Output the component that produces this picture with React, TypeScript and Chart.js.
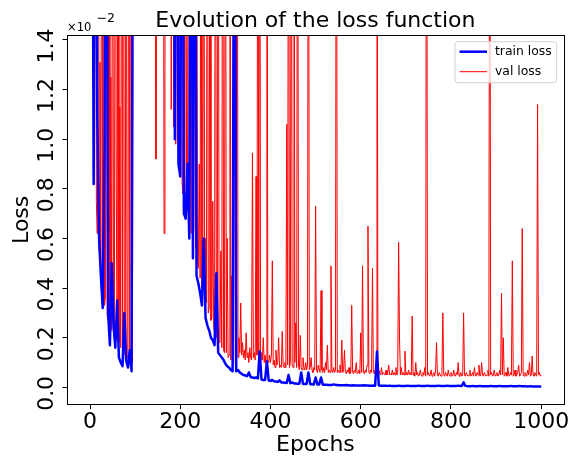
import React, { useEffect, useRef } from "react";
import { Chart, registerables } from "chart.js";

Chart.register(...registerables);

// Sampled epochs: train loss every 4th epoch, val loss every 2nd epoch
const trainEpochs: number[] = Array.from({ length: 251 }, (_, i) => i * 4);
const valEpochs: number[] = Array.from({ length: 501 }, (_, i) => i * 2);

// Loss values in units of 1e-2 (the axis offset shown on the chart)
const trainLoss: number[] = [
  // 0-36
  5, 3, 0.82, 3, 1.1, 0.6, 0.45, 0.32, 0.95, 3,
  // 40-76
  0.3, 0.17, 0.5, 0.25, 0.16, 0.35, 0.12, 0.1, 0.085, 0.3,
  // 80-116
  0.11, 0.08, 0.15, 0.065, 3, 3, 3, 3, 3, 3,
  // 120-156
  3, 3, 3, 3, 3, 3, 3, 3, 3, 3,
  // 160-196
  3, 3, 3, 3, 3, 3, 3, 1.0, 3, 0.9,
  // 200-236
  0.85, 3, 0.7, 0.68, 0.9, 0.6, 3, 0.52, 3, 0.45,
  // 240-276
  0.42, 0.38, 0.33, 0.6, 0.28, 0.25, 0.23, 0.2, 0.19, 0.17,
  // 280-316
  0.46, 0.14, 0.13, 0.12, 0.11, 0.095, 0.085, 0.08, 0.07, 0.065,
  // 320-356
  3, 0.065, 0.07, 0.06, 0.055, 0.05, 0.048, 0.045, 0.06, 0.042,
  // 360-396
  0.04, 0.038, 0.04, 0.036, 0.145, 0.032, 0.03, 0.03, 0.105, 0.028,
  // 400-436
  0.026, 0.03, 0.025, 0.024, 0.022, 0.028, 0.02, 0.02, 0.019, 0.018,
  // 440-476
  0.05, 0.017, 0.02, 0.016, 0.016, 0.015, 0.015, 0.06, 0.014, 0.014,
  // 480-516
  0.014, 0.06, 0.013, 0.013, 0.012, 0.04, 0.012, 0.012, 0.04, 0.011,
  // 520-556
  0.011, 0.011, 0.01, 0.01, 0.01, 0.012, 0.01, 0.01, 0.009, 0.009,
  // 560-596
  0.009, 0.009, 0.01, 0.009, 0.008, 0.008, 0.009, 0.008, 0.008, 0.008,
  // 600-636
  0.008, 0.008, 0.009, 0.008, 0.008, 0.007, 0.007, 0.008, 0.007, 0.145,
  // 640-676
  0.008, 0.007, 0.007, 0.007, 0.007, 0.006, 0.007, 0.006, 0.006, 0.006,
  // 680-716
  0.006, 0.007, 0.006, 0.006, 0.006, 0.006, 0.007, 0.006, 0.006, 0.006,
  // 720-756
  0.006, 0.006, 0.007, 0.006, 0.006, 0.006, 0.006, 0.007, 0.006, 0.006,
  // 760-796
  0.006, 0.006, 0.006, 0.007, 0.006, 0.006, 0.006, 0.006, 0.007, 0.006,
  // 800-836
  0.006, 0.006, 0.006, 0.006, 0.007, 0.006, 0.006, 0.02, 0.006, 0.005,
  // 840-876
  0.005, 0.005, 0.006, 0.005, 0.005, 0.005, 0.006, 0.005, 0.005, 0.005,
  // 880-916
  0.005, 0.005, 0.006, 0.005, 0.005, 0.005, 0.005, 0.006, 0.005, 0.005,
  // 920-956
  0.005, 0.005, 0.005, 0.006, 0.005, 0.005, 0.005, 0.005, 0.006, 0.005,
  // 960-996
  0.005, 0.005, 0.004, 0.004, 0.005, 0.004, 0.004, 0.004, 0.004, 0.004,
  // 1000
  0.004,
];

const valLoss: number[] = [
  // 0-38
  5, 4, 3, 3, 1.0, 3, 3, 0.75, 0.62, 3, 0.55, 1.31, 0.48, 3, 0.4, 3, 0.33, 0.36, 3, 0.29,
  // 40-78
  0.27, 3, 0.25, 1.25, 0.23, 3, 0.22, 0.2, 3, 0.85, 0.19, 3, 0.18, 1.13, 0.16, 3, 0.15, 3, 0.14, 0.13,
  // 80-118
  3, 0.12, 0.13, 3, 0.11, 3, 0.12, 0.1, 3, 3, 3, 3, 3, 3, 3, 3, 3, 3, 3, 3,
  // 120-158
  3, 3, 3, 3, 3, 3, 3, 3, 3, 3, 3, 3, 3, 0.92, 3, 3, 3, 3, 3, 3,
  // 160-198
  3, 3, 0.62, 1.29, 3, 3, 3, 3, 3, 3, 1.12, 3, 3, 1.05, 3, 0.98, 3, 3, 0.93, 3,
  // 200-238
  0.86, 3, 0.82, 0.78, 3, 0.74, 3, 0.7, 0.72, 3, 0.66, 1.2, 0.62, 3, 0.6, 0.64, 3, 0.56, 3, 0.5,
  // 240-278
  0.48, 0.9, 0.44, 3, 0.4, 0.42, 3, 0.36, 0.6, 0.34, 3, 0.3, 0.32, 3, 0.27, 0.28, 0.75, 0.24, 0.22, 3,
  // 280-318
  0.2, 0.22, 3, 0.18, 0.19, 0.55, 0.16, 3, 0.15, 0.14, 3, 0.14, 0.6, 0.12, 0.13, 3, 0.11, 0.45, 0.1, 0.5,
  // 320-358
  3, 0.09, 0.1, 3, 0.12, 0.2, 0.14, 0.34, 0.13, 0.18, 0.12, 0.15, 0.11, 0.22, 0.12, 0.14, 0.1, 0.16, 0.12, 0.11,
  // 360-398
  0.945, 0.12, 0.14, 0.11, 0.85, 0.13, 3, 0.12, 3, 0.1, 0.14, 0.11, 0.2, 0.1, 0.13, 0.09, 3, 0.11, 0.1, 0.13,
  // 400-438
  0.1, 0.13, 0.51, 0.09, 0.11, 0.08, 0.15, 0.09, 0.1, 0.2, 0.08, 0.09, 0.08, 0.226, 0.09, 0.08, 0.1, 0.08, 1.06, 0.09,
  // 440-478
  3, 0.08, 0.1, 3, 0.09, 0.08, 3, 0.1, 0.26, 0.08, 3, 0.09, 0.07, 0.21, 0.08, 0.07, 0.12, 0.08, 0.07, 0.1,
  // 480-518
  0.07, 0.09, 3, 0.07, 0.08, 0.12, 0.07, 0.06, 0.08, 0.07, 0.73, 0.07, 0.06, 0.09, 0.07, 0.06, 0.39, 0.07, 0.06, 0.08,
  // 520-558
  0.06, 0.1, 0.07, 0.17, 0.06, 0.07, 0.06, 0.49, 0.07, 0.06, 0.08, 0.06, 0.07, 3, 0.06, 0.07, 0.06, 0.09, 0.06, 0.19,
  // 560-598
  0.06, 0.07, 0.15, 0.06, 0.055, 0.07, 0.06, 0.08, 0.055, 0.06, 0.33, 0.06, 0.055, 0.07, 0.06, 0.1, 0.055, 0.06, 0.07, 0.055,
  // 600-638
  0.22, 0.06, 0.49, 0.06, 0.055, 0.07, 0.06, 0.09, 0.65, 0.06, 0.055, 0.07, 0.06, 0.48, 0.06, 0.055, 0.07, 0.06, 3, 0.06,
  // 640-678
  0.07, 0.055, 0.05, 0.08, 0.05, 0.06, 0.055, 0.05, 0.07, 0.05, 0.06, 0.09, 0.05, 0.055, 0.05, 0.07, 0.05, 0.06, 0.05, 0.08,
  // 680-718
  0.05, 0.06, 0.585, 0.19, 0.05, 0.08, 0.05, 0.06, 0.05, 0.146, 0.05, 0.06, 0.05, 0.07, 0.05, 0.06, 0.05, 0.287, 0.05, 0.06,
  // 720-758
  0.045, 0.1, 0.05, 0.06, 0.045, 0.05, 0.07, 0.05, 0.045, 0.06, 0.05, 0.08, 0.045, 3, 0.05, 0.06, 0.045, 0.05, 0.07, 0.045,
  // 760-798
  0.05, 0.06, 0.045, 0.07, 0.18, 0.05, 0.045, 0.06, 0.05, 0.045, 0.07, 0.3, 0.05, 0.045, 0.06, 0.05, 0.045, 0.07, 0.05, 0.045,
  // 800-838
  0.06, 0.05, 0.045, 0.07, 0.05, 0.045, 0.06, 0.05, 0.1, 0.045, 0.05, 0.06, 0.045, 0.05, 0.3, 0.05, 0.045, 0.06, 0.05, 0.045,
  // 840-878
  0.05, 0.07, 0.045, 0.05, 0.06, 0.045, 0.08, 0.05, 0.045, 0.06, 0.05, 0.09, 0.045, 0.05, 0.1, 0.05, 0.045, 0.06, 0.05, 0.045,
  // 880-918
  0.05, 0.07, 0.045, 3, 0.05, 0.06, 0.045, 0.05, 0.07, 0.045, 0.05, 0.06, 0.045, 0.05, 0.07, 0.05, 0.38, 0.05, 0.2, 0.045,
  // 920-958
  0.05, 0.06, 0.045, 0.08, 0.05, 0.045, 0.06, 0.05, 0.51, 0.045, 0.05, 0.07, 0.045, 0.05, 0.06, 0.09, 0.045, 0.05, 0.06, 0.64,
  // 960-998
  0.05, 0.045, 0.06, 0.05, 0.045, 0.07, 0.05, 0.1, 0.045, 0.05, 0.126, 0.05, 0.045, 0.06, 0.05, 0.045, 1.14, 0.05, 0.06, 0.045,
  // 1000
  0.05,
];

const xTickValues = [0, 200, 400, 600, 800, 1000];
const yTickValues = [0, 0.2, 0.4, 0.6, 0.8, 1.0, 1.2, 1.4];

const seriesLabels = ["train loss", "val loss"];
const titleText = "Evolution of the loss function";
const xLabel = "Epochs";
const yLabel = "Loss";

const FONT = "DejaVu Sans";

const decorPlugin = {
  id: "decor",
  afterDraw(chart: any) {
    const { ctx, chartArea } = chart;
    const { left, right, top, bottom } = chartArea;
    ctx.save();
    // frame
    ctx.strokeStyle = "#000";
    ctx.lineWidth = 1;
    ctx.strokeRect(Math.round(left) - 0.5, Math.round(top) - 0.5, Math.round(right - left) + 1, Math.round(bottom - top) + 1);

    // rotated y tick labels
    const ys = chart.scales.y;
    ctx.fillStyle = "#000";
    ctx.font = `22px "${FONT}"`;
    ctx.textAlign = "center";
    ctx.textBaseline = "middle";
    ys.ticks.forEach((t: any) => {
      const py = ys.getPixelForValue(t.value);
      ctx.save();
      ctx.translate(47, py + 6);
      ctx.rotate(-Math.PI / 2);
      ctx.fillText(Number(t.value).toFixed(1), 0, 0);
      ctx.restore();
    });

    // title
    ctx.textAlign = "center";
    ctx.textBaseline = "alphabetic";
    ctx.fillText(titleText, (left + right) / 2, 26.5);

    // offset text
    ctx.textAlign = "left";
    ctx.font = `11.5px "${FONT}"`;
    ctx.fillText("\u00d710", left - 0.5, 31);
    ctx.font = `12.5px "${FONT}"`;
    ctx.fillText("\u22122", left + 29, 21.5);

    // legend
    const bw = 101.7, bh = 41;
    const bx = right - 6.6 - bw;
    const by = top + 6;
    const r = 3;
    ctx.beginPath();
    ctx.moveTo(bx + r, by);
    ctx.lineTo(bx + bw - r, by);
    ctx.arcTo(bx + bw, by, bx + bw, by + r, r);
    ctx.lineTo(bx + bw, by + bh - r);
    ctx.arcTo(bx + bw, by + bh, bx + bw - r, by + bh, r);
    ctx.lineTo(bx + r, by + bh);
    ctx.arcTo(bx, by + bh, bx, by + bh - r, r);
    ctx.lineTo(bx, by + r);
    ctx.arcTo(bx, by, bx + r, by, r);
    ctx.closePath();
    ctx.fillStyle = "rgba(255,255,255,0.8)";
    ctx.fill();
    ctx.strokeStyle = "#d0d0d0";
    ctx.lineWidth = 1;
    ctx.stroke();

    const ds = chart.data.datasets;
    ds.forEach((d: any, i: number) => {
      const y = by + 10 + i * 20;
      ctx.beginPath();
      ctx.moveTo(bx + 4.5, y);
      ctx.lineTo(bx + 32, y);
      ctx.strokeStyle = d.borderColor;
      ctx.lineWidth = d.borderWidth;
      ctx.stroke();
      ctx.fillStyle = "#000";
      ctx.font = `12.4px "${FONT}"`;
      ctx.textAlign = "left";
      ctx.textBaseline = "middle";
      ctx.fillText(d.label, bx + 40, y);
    });
    ctx.restore();
  },
};

export default function App() {
  const ref = useRef<HTMLCanvasElement>(null);
  useEffect(() => {
    document.body.style.margin = "0";
    const canvas = ref.current!;
    const chart = new Chart(canvas, {
      type: "line",
      data: {
        datasets: [
          {
            label: seriesLabels[0],
            data: trainEpochs.map((e, i) => ({ x: e, y: trainLoss[i] })),
            borderColor: "#0000ff",
            borderWidth: 2.5,
            pointRadius: 0,
            tension: 0,
            borderJoinStyle: "round",
            clip: 0,
          },
          {
            label: seriesLabels[1],
            data: valEpochs.map((e, i) => ({ x: e, y: valLoss[i] })),
            borderColor: "#ff0000",
            borderWidth: 1,
            pointRadius: 0,
            tension: 0,
            borderJoinStyle: "round",
            clip: 0,
          },
        ],
      },
      options: {
        responsive: false,
        animation: false,
        devicePixelRatio: 1,
        events: [],
        layout: { padding: { left: 0, top: 35.7, right: 6.7, bottom: 0 } },
        plugins: {
          legend: { display: false },
          title: { display: false },
          tooltip: { enabled: false },
        },
        scales: {
          x: {
            type: "linear",
            min: -50,
            max: 1049,
            afterBuildTicks: (s: any) => {
              s.ticks = xTickValues.map((v) => ({ value: v }));
            },
            afterFit: (s: any) => {
              s.height = 56;
            },
            grid: { display: true, drawOnChartArea: false, drawTicks: true, tickLength: 5, color: "#000", lineWidth: 1 },
            border: { display: true, color: "#000", width: 1 },
            ticks: {
              color: "#000",
              font: { family: FONT, size: 22 },
              padding: 0,
              maxRotation: 0,
              autoSkip: false,
              callback: (v: any) => String(v),
            },
            title: {
              display: true,
              text: xLabel,
              color: "#000",
              font: { family: FONT, size: 22 },
              padding: { top: 0, bottom: 1.5 },
            },
          },
          y: {
            type: "linear",
            min: -0.067,
            max: 1.4173,
            afterBuildTicks: (s: any) => {
              s.ticks = yTickValues.map((v) => ({ value: v }));
            },
            afterFit: (s: any) => {
              s.width = 67.5;
            },
            grid: { display: true, drawOnChartArea: false, drawTicks: true, tickLength: 5, color: "#000", lineWidth: 1 },
            border: { display: true, color: "#000", width: 1 },
            ticks: {
              display: false,
              autoSkip: false,
            },
            title: {
              display: true,
              text: yLabel,
              color: "#000",
              font: { family: FONT, size: 22 },
              padding: { top: 9, bottom: 0 },
            },
          },
        },
      },
      plugins: [decorPlugin],
    } as any);
    return () => chart.destroy();
  }, []);
  return <canvas ref={ref} width={570} height={460} style={{ display: "block" }} />;
}
